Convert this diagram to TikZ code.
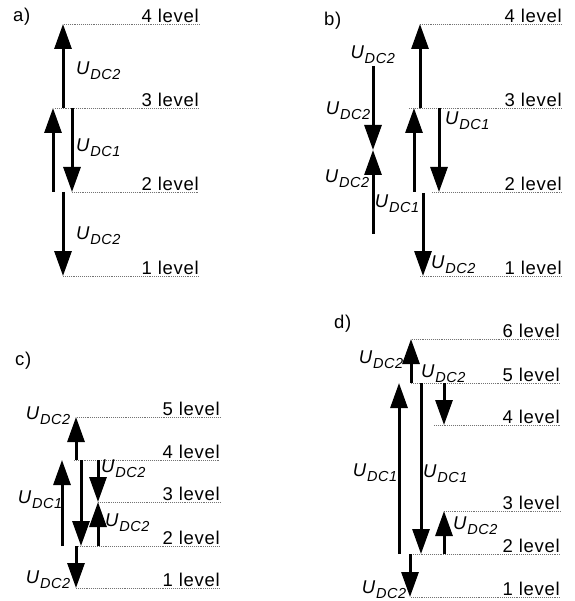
\documentclass[tikz,border=0pt]{standalone}
\usepackage{fontspec}
\setmainfont{Liberation Sans}[LetterSpace=4]
\usetikzlibrary{arrows.meta}
\newcommand{\Udc}[1]{\textit{U}\raisebox{-5pt}{\fontsize{14.5}{14.5}\selectfont\textit{DC#1}}}
\tikzset{
  lvl/.style={draw=black!55, line width=0.7pt, dash pattern=on 0.8pt off 1.1pt},
  volt/.style={line width=3pt, -{Triangle[length=25pt,width=17pt]}},
  txt/.style={font=\fontsize{18.5}{18.5}\selectfont, inner sep=0pt},
  lvltxt/.style={txt, anchor=base east, yshift=1.5pt},
}
\begin{document}
\begin{tikzpicture}[x=1pt,y=-1pt]
\useasboundingbox (0,0) rectangle (574,601);

% ---------------- a) ----------------
\node[txt, anchor=base west] (ta) at (13,22) {a)};
\foreach \n/\y/\xs in {4/24/64, 3/108/55, 2/192/72, 1/276/63}{
  \coordinate (a\n s) at (\xs,\y);
  \coordinate (a\n e) at (199,\y);
  \draw[lvl] (a\n s) -- (a\n e);
  \node[lvltxt] (la\n) at (a\n e) {\n\ level};
}
\coordinate (a1t) at (63,108); \coordinate (a1h) at (63,24);
\coordinate (a2t) at (53,192); \coordinate (a2h) at (53,108);
\coordinate (a3t) at (72,108); \coordinate (a3h) at (72,192);
\coordinate (a4t) at (63,192); \coordinate (a4h) at (63,276);
\draw[volt] (a1t) -- (a1h);
\draw[volt] (a2t) -- (a2h);
\draw[volt] (a3t) -- (a3h);
\draw[volt] (a4t) -- (a4h);
\node[txt, anchor=west] (ua1) at (76,71) {\Udc{2}};
\node[txt, anchor=west] (ua2) at (76,148) {\Udc{1}};
\node[txt, anchor=west] (ua3) at (76,236) {\Udc{2}};

% ---------------- b) ----------------
\node[txt, anchor=base west] (tb) at (324,26) {b)};
\foreach \n/\y/\xs in {4/24/420, 3/108/409, 2/192/432, 1/276/420}{
  \coordinate (b\n s) at (\xs,\y);
  \coordinate (b\n e) at (562,\y);
  \draw[lvl] (b\n s) -- (b\n e);
  \node[lvltxt] (lb\n) at (b\n e) {\n\ level};
}
\coordinate (b1t) at (420,108); \coordinate (b1h) at (420,24);
\coordinate (b2t) at (414,192); \coordinate (b2h) at (414,108);
\coordinate (b3t) at (439,108); \coordinate (b3h) at (439,192);
\coordinate (b4t) at (423,193); \coordinate (b4h) at (423,276);
\coordinate (b5t) at (373,66);  \coordinate (b5h) at (373,150);
\coordinate (b6t) at (373,234); \coordinate (b6h) at (373,150);
\draw[volt] (b1t) -- (b1h);
\draw[volt] (b2t) -- (b2h);
\draw[volt] (b3t) -- (b3h);
\draw[volt] (b4t) -- (b4h);
\draw[volt] (b5t) -- (b5h);
\draw[volt] (b6t) -- (b6h);
\node[txt] (ub1) at (373,55) {\Udc{2}};
\node[txt, anchor=east] (ub2) at (371,111) {\Udc{2}};
\node[txt, anchor=east] (ub3) at (370,179) {\Udc{2}};
\node[txt, anchor=east] (ub4) at (420,204) {\Udc{1}};
\node[txt, anchor=west] (ub5) at (445,121) {\Udc{1}};
\node[txt, anchor=west] (ub6) at (431,265) {\Udc{2}};

% ---------------- c) ----------------
\node[txt, anchor=base west] (tc) at (15,365) {c)};
\foreach \n/\y/\xs in {5/417/77, 4/460/74, 3/502/98, 2/546/76, 1/588/76}{
  \coordinate (c\n s) at (\xs,\y);
  \coordinate (c\n e) at (220,\y);
  \draw[lvl] (c\n s) -- (c\n e);
  \node[lvltxt] (lc\n) at (c\n e) {\n\ level};
}
\coordinate (c1t) at (76,460); \coordinate (c1h) at (76,417);
\coordinate (c2t) at (62,546); \coordinate (c2h) at (62,460);
\coordinate (c3t) at (81,460); \coordinate (c3h) at (81,546);
\coordinate (c4t) at (98,460); \coordinate (c4h) at (98,502);
\coordinate (c5t) at (98,546); \coordinate (c5h) at (98,502);
\coordinate (c6t) at (76,546); \coordinate (c6h) at (76,588);
\draw[volt] (c1t) -- (c1h);
\draw[volt] (c2t) -- (c2h);
\draw[volt] (c3t) -- (c3h);
\draw[volt] (c4t) -- (c4h);
\draw[volt] (c5t) -- (c5h);
\draw[volt] (c6t) -- (c6h);
\node[txt, anchor=east] (uc1) at (71,416) {\Udc{2}};
\node[txt, anchor=east] (uc2) at (63,500) {\Udc{1}};
\node[txt, anchor=west] (uc3) at (101,469) {\Udc{2}};
\node[txt, anchor=west] (uc4) at (105,523) {\Udc{2}};
\node[txt, anchor=east] (uc5) at (71,580) {\Udc{2}};

% ---------------- d) ----------------
\node[txt, anchor=base west] (td) at (334,328) {d)};
\foreach \n/\y/\xs in {6/339/412, 5/383/411, 4/425/434, 3/511/444, 2/554/411, 1/597/411}{
  \coordinate (d\n s) at (\xs,\y);
  \coordinate (d\n e) at (560,\y);
  \draw[lvl] (d\n s) -- (d\n e);
  \node[lvltxt] (ld\n) at (d\n e) {\n\ level};
}
\coordinate (d1t) at (411,383); \coordinate (d1h) at (411,339);
\coordinate (d2t) at (399,554); \coordinate (d2h) at (399,383);
\coordinate (d3t) at (421,383); \coordinate (d3h) at (421,554);
\coordinate (d4t) at (444,383); \coordinate (d4h) at (444,425);
\coordinate (d5t) at (444,554); \coordinate (d5h) at (444,511);
\coordinate (d6t) at (410,554); \coordinate (d6h) at (410,597);
\draw[volt] (d1t) -- (d1h);
\draw[volt] (d2t) -- (d2h);
\draw[volt] (d3t) -- (d3h);
\draw[volt] (d4t) -- (d4h);
\draw[volt] (d5t) -- (d5h);
\draw[volt] (d6t) -- (d6h);
\node[txt, anchor=east] (ud1) at (404,360) {\Udc{2}};
\node[txt, anchor=west] (ud2) at (421,374) {\Udc{2}};
\node[txt, anchor=east] (ud3) at (398,473) {\Udc{1}};
\node[txt, anchor=west] (ud4) at (423,474) {\Udc{1}};
\node[txt, anchor=west] (ud5) at (453,526) {\Udc{2}};
\node[txt, anchor=east] (ud6) at (407,590) {\Udc{2}};
\end{tikzpicture}
\end{document}
